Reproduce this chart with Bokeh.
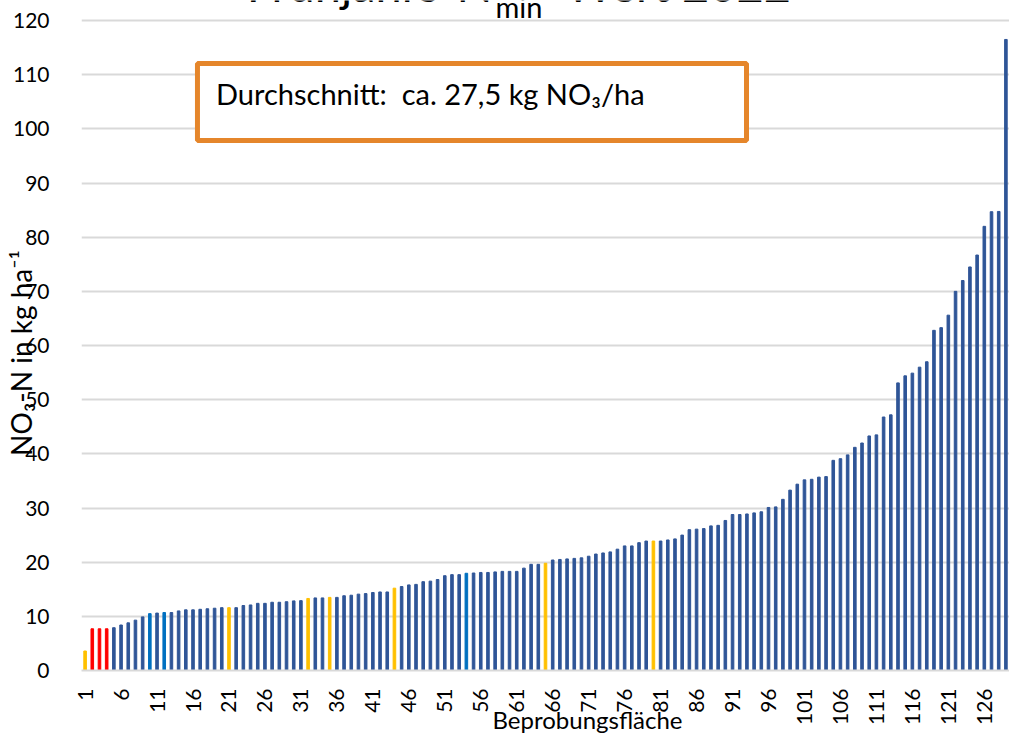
import math
from bokeh.plotting import figure
from bokeh.models import (Range1d, FixedTicker, Label, BoxAnnotation, ColumnDataSource)
from bokeh.embed import file_html
from bokeh.resources import INLINE

# ---- data ----
values = [3.6, 7.7, 7.7, 7.7, 7.9, 8.4, 8.8, 9.3, 9.9, 10.5,
          10.6, 10.7, 10.7, 11.0, 11.2, 11.2, 11.3, 11.4, 11.5, 11.6,
          11.6, 11.6, 12.0, 12.1, 12.4, 12.4, 12.6, 12.6, 12.7, 12.85,
          12.9, 13.3, 13.4, 13.4, 13.5, 13.5, 13.8, 13.9, 14.1, 14.2,
          14.4, 14.5, 14.5, 15.2, 15.5, 15.8, 15.9, 16.4, 16.5, 16.8,
          17.5, 17.7, 17.7, 17.95, 18.0, 18.1, 18.1, 18.2, 18.3, 18.3,
          18.3, 18.9, 19.6, 19.6, 19.8, 20.4, 20.5, 20.6, 20.7, 20.8,
          21.1, 21.5, 21.7, 21.9, 22.4, 23.0, 23.0, 23.6, 23.9, 23.9,
          23.9, 24.1, 24.3, 25.0, 26.0, 26.1, 26.2, 26.7, 26.8, 27.7,
          28.8, 28.8, 28.9, 29.1, 29.3, 30.1, 30.2, 31.6, 33.3, 34.4,
          35.2, 35.3, 35.7, 35.8, 38.8, 39.1, 39.8, 41.2, 42.0, 43.3,
          43.5, 46.8, 47.2, 53.1, 54.4, 54.9, 56.0, 57.0, 62.8, 63.3,
          65.6, 70.0, 72.0, 74.5, 76.7, 82.0, 84.7, 84.75, 116.5]
plots = list(range(1, len(values) + 1))
yellow_ids = [1, 21, 32, 35, 44, 65, 80]
red_ids = [2, 3, 4]
blue_ids = [10, 12, 54]
x_tick_labels = list(range(1, 127, 5))
y_ticks = list(range(0, 121, 10))

title_main = "Frühjahrs-N"
title_sub = "min"
title_tail = "-Wert 2022"
x_title = "Beprobungsfläche"
y_title = "NO₃-N in kg ha⁻¹"
note_text = "Durchschnitt:\u00a0 ca. 27,5 kg NO₃/ha"

NAVY = "#2F5597"
BLUE = "#0070C0"
YELLOW = "#FFC000"
RED = "#FF0000"
colors = []
for i in plots:
    if i in yellow_ids:
        colors.append(YELLOW)
    elif i in red_ids:
        colors.append(RED)
    elif i in blue_ids:
        colors.append(BLUE)
    else:
        colors.append(NAVY)

src = ColumnDataSource(dict(x=plots, top=values, color=colors))

FONT = "Lato"

# the frame reaches the top edge of the canvas, so the (cut-off) title
# drawn above the 120 line stays visible; 120 sits 20px below the top
Y_TOP = 120 * 670 / 650

p = figure(width=1009, height=737, output_backend="svg", toolbar_location=None,
           x_range=Range1d(0.5, len(values) + 0.5), y_range=Range1d(0, Y_TOP),
           min_border_left=81, min_border_right=0, min_border_top=0,
           min_border_bottom=67)
p.outline_line_color = None
p.background_fill_color = "white"
p.border_fill_color = "white"

p.vbar(x="x", top="top", width=0.36, color="color", source=src)

# axes
p.xaxis.ticker = FixedTicker(ticks=x_tick_labels, minor_ticks=[])
p.xaxis.major_label_orientation = math.pi / 2
p.xaxis.axis_line_color = "#D9D9D9"
p.xaxis.axis_line_width = 2
p.xaxis.major_tick_line_color = None
p.xaxis.minor_tick_line_color = None
p.xaxis.major_label_standoff = 12
p.xaxis.major_label_text_font = FONT
p.xaxis.major_label_text_font_size = "21px"
p.xaxis.major_label_text_color = "black"
# leading em/en spaces move the centred title right, as in the reference
p.xaxis.axis_label = "\u2003\u2003\u2003\u2003\u2002" + x_title
p.xaxis.axis_label_text_font = FONT
p.xaxis.axis_label_text_font_size = "24px"
p.xaxis.axis_label_text_font_style = "normal"
p.xaxis.axis_label_text_color = "black"
p.xaxis.axis_label_standoff = -23

p.yaxis.ticker = FixedTicker(ticks=y_ticks, minor_ticks=[])
p.yaxis.axis_line_color = None
p.yaxis.major_tick_line_color = None
p.yaxis.minor_tick_line_color = None
p.yaxis.major_label_standoff = 26
p.yaxis.major_label_text_font = FONT
p.yaxis.major_label_text_font_size = "21px"
p.yaxis.major_label_text_color = "black"
p.yaxis.axis_label = y_title + "\u2003\u2002"
p.yaxis.axis_label_text_font = FONT
p.yaxis.axis_label_text_font_size = "28px"
p.yaxis.axis_label_text_font_style = "normal"
p.yaxis.axis_label_text_color = "black"
p.yaxis.axis_label_standoff = -28

p.xgrid.grid_line_color = None
p.ygrid.ticker = FixedTicker(ticks=y_ticks[1:])
p.ygrid.grid_line_color = "#D9D9D9"
p.ygrid.grid_line_width = 2

# note box
box = BoxAnnotation(left=16.62, right=92.94, top=112.06, bottom=97.85,
                    fill_color="white", fill_alpha=1.0,
                    line_color="#E5862B", line_width=5, line_alpha=1.0)
p.add_layout(box)
p.add_layout(Label(x=19.2, y=106.6, text=note_text, text_font=FONT,
                   text_font_size="29px", text_color="black",
                   text_baseline="middle", text_align="left"))

# chart title (cut off at the top like the reference)
p.add_layout(Label(x=57.63, y=126.65, text=title_main, text_font=FONT,
                   text_font_size="47px", text_color="black",
                   text_align="right", text_baseline="alphabetic"))
p.add_layout(Label(x=58.05, y=122.58, text=title_sub, text_font=FONT,
                   text_font_size="29px", text_color="black",
                   text_align="left", text_baseline="alphabetic"))
p.add_layout(Label(x=65.4, y=126.65, text=title_tail, text_font=FONT,
                   text_font_size="47px", text_color="black",
                   text_align="left", text_baseline="alphabetic"))

open("out.html", "w").write(file_html(p, INLINE))
